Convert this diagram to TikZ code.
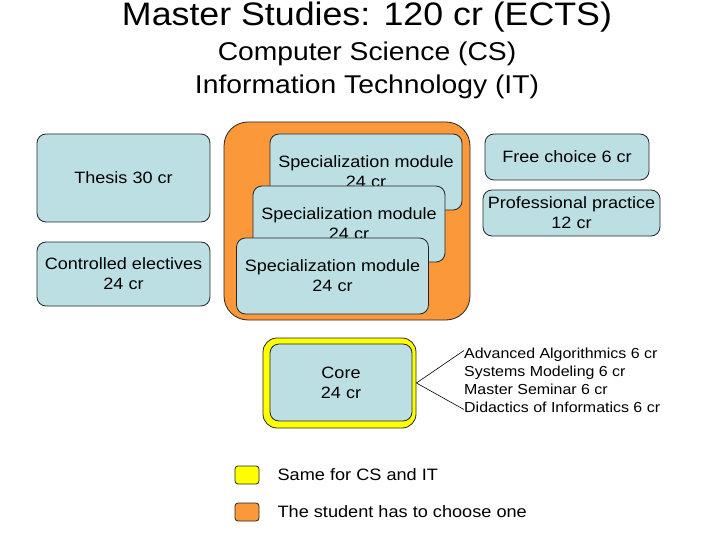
\documentclass[tikz,border=0pt]{standalone}
\usepackage{fontspec}
\setmainfont[FakeStretch=1.1]{Liberation Sans}
\usetikzlibrary{positioning}
\definecolor{boxblue}{RGB}{188,223,227}
\definecolor{choiceorange}{RGB}{250,152,58}
\definecolor{sameyellow}{RGB}{255,255,0}
\tikzset{
    module/.style={draw=black!85, line width=0.8pt, fill=boxblue, rounded corners=9pt,
        align=center, font=\fontsize{16.4}{20}\selectfont, inner sep=0pt},
    keybox/.style={draw=black!85, line width=0.8pt, rounded corners=3pt,
        minimum width=24pt, minimum height=18pt, inner sep=0pt},
    keytext/.style={anchor=west, font=\fontsize{16.5}{20}\selectfont, inner sep=0pt}
}
\begin{document}
\begin{tikzpicture}[x=1pt, y=-1pt]
    \useasboundingbox (0,0) rectangle (720,540);

    % Titles
    \node (title) at (367,17) {\fontsize{32.5}{34}\selectfont Master Studies: 120 cr (ECTS)};
    \node (subtitle) at (367,70) [align=center, font=\fontsize{25.7}{33}\selectfont]
        {Computer Science (CS)\\Information Technology (IT)};

    % Left column
    \node[module, minimum width=173pt, minimum height=88pt] (thesis) at (123.5,178) {Thesis 30 cr};
    \node[module, minimum width=173pt, minimum height=64pt] (electives) at (123.5,274)
        {Controlled electives\\24 cr};

    % Choice of specialization
    \node[draw=black!85, line width=0.8pt, fill=choiceorange, rounded corners=24pt,
        minimum width=246pt, minimum height=198pt] (choice) at (347,221) {};
    \node[module, minimum width=192pt, minimum height=76pt] (spec1) at (366,172)
        {Specialization module\\24 cr};
    \node[module, minimum width=192pt, minimum height=76pt] (spec2) at (349,224)
        {Specialization module\\24 cr};
    \node[module, minimum width=192pt, minimum height=76pt] (spec3) at (332.5,276)
        {Specialization module\\24 cr};

    % Right column
    \node[module, minimum width=164pt, minimum height=46pt] (freechoice) at (567,157)
        {Free choice 6 cr};
    \node[module, minimum width=177pt, minimum height=46pt] (practice) at (571.5,213)
        {Professional practice\\12 cr};

    % Core
    \node[draw=black!85, line width=0.8pt, fill=sameyellow, rounded corners=14pt,
        minimum width=153pt, minimum height=90pt] (coreframe) at (339.5,383) {};
    \node[module, minimum width=142pt, minimum height=77pt] (core) at (341,382.5)
        {Core\\24 cr};
    \node[anchor=west, align=left, inner sep=0pt, font=\fontsize{14.5}{18}\selectfont]
        (corelist) at (464,380)
        {Advanced Algorithmics 6 cr\\Systems Modeling 6 cr\\Master Seminar 6 cr\\Didactics of Informatics 6 cr};
    \draw[line width=0.6pt] (coreframe.east) -- ([yshift=-3pt]corelist.north west);
    \draw[line width=0.6pt] (coreframe.east) -- ([yshift=3pt]corelist.south west);

    % Legend
    \node[keybox, fill=sameyellow] (keysame) at (247,475) {};
    \node[keytext, right=18pt of keysame] (keysametext) {Same for CS and IT};
    \node[keybox, fill=choiceorange] (keychoice) at (247,512) {};
    \node[keytext, right=18pt of keychoice] (keychoicetext) {The student has to choose one};
\end{tikzpicture}
\end{document}
